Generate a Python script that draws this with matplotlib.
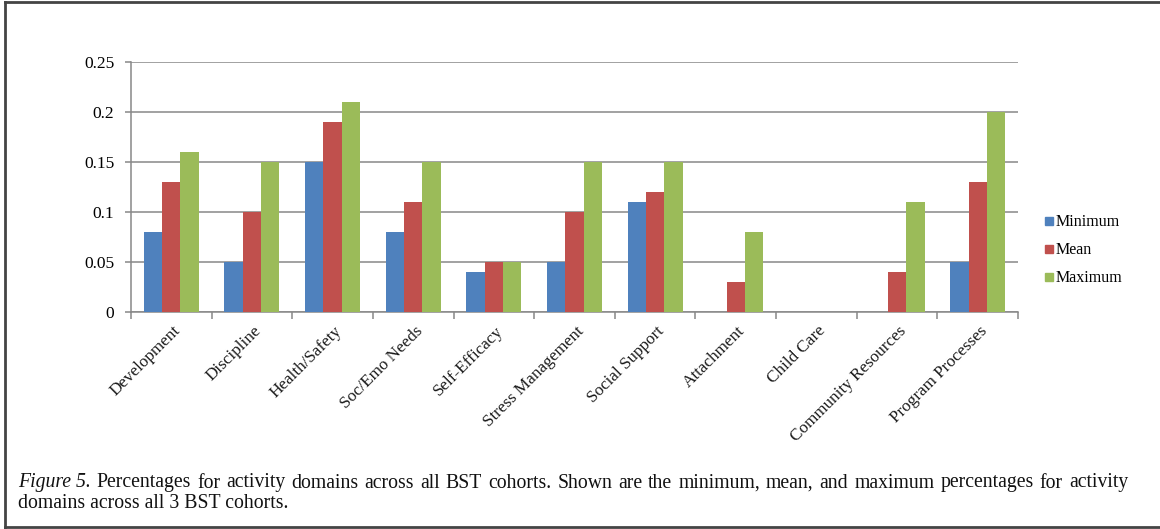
import numpy as np
import matplotlib
matplotlib.use("Agg")
import matplotlib.pyplot as plt
from matplotlib.lines import Line2D

# Activity domains and min / mean / max percentages across the BST cohorts
dominios = ["Development", "Discipline", "Health/Safety", "Soc/Emo Needs",
            "Self-Efficacy", "Stress Management", "Social Support",
            "Attachment", "Child Care", "Community Resources",
            "Program Processes"]
minimo = [0.08, 0.05, 0.15, 0.08, 0.04, 0.05, 0.11, 0.0, 0.0, 0.0, 0.05]
media = [0.13, 0.10, 0.19, 0.11, 0.05, 0.10, 0.12, 0.03, 0.0, 0.04, 0.13]
maximo = [0.16, 0.15, 0.21, 0.15, 0.05, 0.15, 0.15, 0.08, 0.0, 0.11, 0.20]
series = ["Minimum", "Mean", "Maximum"]
colores = ["#4F81BD", "#C0504D", "#9BBB59"]
yticks = [0, 0.05, 0.1, 0.15, 0.2, 0.25]
ytick_labels = ["0", "0.05", "0.1", "0.15", "0.2", "0.25"]

plt.rcParams["font.family"] = ["Liberation Serif", "DejaVu Serif"]

W, H = 1160, 529
fig = plt.figure(figsize=(W / 100, H / 100), dpi=100)
ax = fig.add_axes([0.1129, 0.4102, 0.7647, 0.4726])

x = np.arange(len(dominios))
ancho = 0.227
for k, (valores, nombre, color) in enumerate(zip([minimo, media, maximo], series, colores)):
    ax.bar(x + (k - 1) * ancho, valores, width=ancho, color=color,
           label=nombre, zorder=3, linewidth=0)

ax.set_xlim(-0.5, len(dominios) - 0.5)
ax.set_ylim(0, 0.25)
ax.set_yticks(yticks)
ax.set_yticklabels(ytick_labels, fontsize=12.5)
ax.yaxis.grid(True, color="#888888", linewidth=1.1, zorder=0)

# category boundaries carry the tick marks, labels sit at the centers
ax.set_xticks(np.arange(len(dominios) + 1) - 0.5)
ax.set_xticklabels([])
ax.tick_params(axis="x", length=5, color="#888888", width=1.1, direction="out")
ax.tick_params(axis="y", length=4, color="#888888", width=1.1, pad=8)
for i, nombre in enumerate(dominios):
    ax.annotate(nombre, xy=(i, 0), xycoords=("data", "axes fraction"),
                xytext=(5, -12), textcoords="offset points",
                rotation=45, rotation_mode="anchor", ha="right", va="center",
                fontsize=12.3, color="#1a1a1a")

for lado in ["top", "right"]:
    ax.spines[lado].set_visible(False)
for lado in ["left", "bottom"]:
    ax.spines[lado].set_color("#888888")
    ax.spines[lado].set_linewidth(1.1)

handles = [Line2D([], [], marker="s", linestyle="none", markersize=6,
                  markerfacecolor=c, markeredgecolor=c) for c in colores]
fig.legend(handles, series, loc="center left", bbox_to_anchor=(0.888, 0.527),
           frameon=False, fontsize=11.5, handletextpad=0.1, labelspacing=0.75,
           handlelength=0.6)

# caption under the chart, first line justified word by word
cap_size = 14.2
x0, x1 = 18, 1128
y1 = 1 - 483 / H
y2 = 1 - 504 / H
linea1 = [("Figure 5.", "italic")] + [(w, "normal") for w in
          ("Percentages for activity domains across all BST cohorts. Shown are the "
           "minimum, mean, and maximum percentages for activity").split()]
renderer = fig.canvas.get_renderer()
piezas = []
for palabra, estilo in linea1:
    t = fig.text(0, y1, palabra, fontsize=cap_size, style=estilo, va="center",
                 color="#111111")
    piezas.append((t, t.get_window_extent(renderer).width))
hueco = (x1 - x0 - sum(w for _, w in piezas)) / (len(piezas) - 1)
pos = x0
for t, w in piezas:
    t.set_x(pos / W)
    pos += w + hueco
fig.text(x0 / W, y2, "domains across all 3 BST cohorts.", fontsize=cap_size,
         va="center", color="#111111")

# frame around the figure
marco = dict(color="#444444", linewidth=2, transform=fig.transFigure)
fig.add_artist(Line2D([0.004, 0.004], [0.002, 0.997], **marco))
fig.add_artist(Line2D([0.004, 1.0], [0.997, 0.997], **marco))
fig.add_artist(Line2D([0.004, 1.0], [0.003, 0.003], **marco))

fig.savefig("out.png", dpi=100)
